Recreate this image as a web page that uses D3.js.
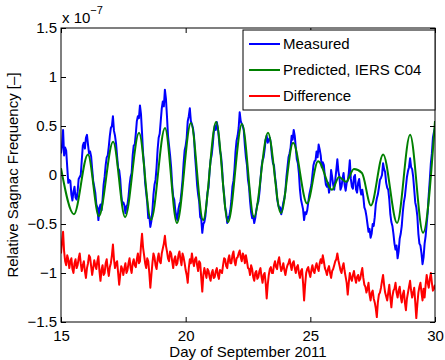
<!DOCTYPE html>
<html>
<head>
<meta charset="utf-8">
<script src="https://cdn.jsdelivr.net/npm/d3@7"></script>
<style>
  body { margin: 0; background: #fff; }
  svg text { font-family: "Liberation Sans", Arial, sans-serif; fill: #000; }
</style>
</head>
<body>
<div id="chart"></div>
<script>
// values are in units of 1e-7, days of September 2011
var sampleStart = 15, sampleStep = 1 / 24;   // hourly samples

var measured = [
  0.22, 0.30, 0.46, 0.20, 0.28, 0.25, 0.08, -0.08, -0.05, -0.06, -0.2, -0.26, -0.17, -0.12, -0.23, -0.25, -0.17, -0.04, -0.02, 0.0, 0.15, 0.3, 0.33, 0.27,
  0.38, 0.41, 0.31, 0.22, 0.24, 0.19, 0.06, -0.06, -0.12, -0.18, -0.3, -0.33, -0.46, -0.34, -0.3, -0.36, -0.25, -0.1, -0.02, 0.1, 0.18, 0.2, 0.29, 0.4,
  0.48, 0.5, 0.6, 0.45, 0.4, 0.32, 0.19, 0.07, 0.05, -0.04, -0.2, -0.3, -0.28, -0.31, -0.39, -0.32, -0.3, -0.22, -0.1, -0.02, 0.02, 0.2, 0.3, 0.31,
  0.42, 0.55, 0.6, 0.58, 0.71, 0.62, 0.43, 0.22, 0.1, -0.08, -0.18, -0.28, -0.44, -0.42, -0.53, -0.47, -0.36, -0.2, -0.1, -0.05, 0.08, 0.26, 0.38, 0.42,
  0.55, 0.68, 0.75, 0.7, 0.87, 0.78, 0.6, 0.4, 0.3, 0.2, 0.08, -0.1, -0.22, -0.25, -0.36, -0.42, -0.46, -0.35, -0.3, -0.27, -0.17, -0.05, 0.12, 0.25,
  0.3, 0.38, 0.55, 0.6, 0.68, 0.55, 0.52, 0.48, 0.4, 0.2, 0.06, -0.1, -0.2, -0.27, -0.43, -0.45, -0.59, -0.5, -0.48, -0.42, -0.3, -0.18, -0.13, 0.04,
  0.15, 0.2, 0.3, 0.43, 0.5, 0.46, 0.54, 0.48, 0.37, 0.25, 0.2, 0.08, -0.1, -0.2, -0.33, -0.38, -0.49, -0.43, -0.42, -0.36, -0.26, -0.12, -0.06, 0.06,
  0.24, 0.35, 0.4, 0.48, 0.64, 0.55, 0.52, 0.5, 0.45, 0.3, 0.18, 0.1, -0.05, -0.12, -0.27, -0.38, -0.44, -0.42, -0.49, -0.44, -0.36, -0.3, -0.27, -0.18,
  -0.05, 0.08, 0.15, 0.18, 0.26, 0.36, 0.4, 0.33, 0.36, 0.38, 0.32, 0.2, 0.12, 0.1, -0.02, -0.1, -0.24, -0.3, -0.34, -0.33, -0.4, -0.35, -0.28, -0.24,
  -0.16, -0.02, 0.08, 0.18, 0.22, 0.28, 0.4, 0.36, 0.46, 0.4, 0.28, 0.16, 0.12, 0.02, -0.15, -0.25, -0.3, -0.35, -0.46, -0.38, -0.4, -0.36, -0.28, -0.2,
  -0.15, -0.1, 0.0, 0.1, 0.14, 0.15, 0.24, 0.18, 0.31, 0.26, 0.2, 0.08, 0.13, 0.1, -0.02, -0.1, -0.12, -0.08, -0.18, -0.12, 0.05, -0.02, -0.1, -0.15,
  -0.05, 0.05, 0.16, 0.04, -0.02, -0.15, -0.12, -0.04, 0.02, -0.1, -0.16, -0.08, -0.06, 0.02, 0.15, -0.04, -0.12, -0.14, -0.02, 0.0, -0.15, -0.18, -0.08, -0.04,
  -0.14, -0.2, -0.15, -0.22, -0.33, -0.36, -0.42, -0.5, -0.58, -0.55, -0.64, -0.6, -0.5, -0.52, -0.43, -0.3, -0.24, -0.2, -0.13, -0.05, -0.03, 0.0, 0.12, 0.06,
  0.03, -0.08, -0.13, -0.15, -0.25, -0.4, -0.48, -0.52, -0.6, -0.7, -0.76, -0.72, -0.85, -0.78, -0.65, -0.6, -0.52, -0.38, -0.28, -0.22, -0.12, -0.02, 0.04, 0.08,
  0.17, 0.08, 0.06, -0.02, -0.15, -0.28, -0.33, -0.42, -0.6, -0.7, -0.72, -0.8, -0.91, -0.84, -0.7, -0.62, -0.5, -0.38, -0.2, -0.05, 0.12, 0.22, 0.38, 0.44,
  0.48
];

var difference = [
  -0.8, -0.68, -0.58, -0.78, -0.88, -0.92, -0.82, -0.86, -0.95, -0.88, -0.85, -0.96, -1.0, -0.9, -0.86, -0.95, -0.92, -0.85, -0.8, -0.9, -0.98, -0.92, -0.88, -0.98,
  -1.05, -0.95, -0.9, -0.82, -0.84, -0.93, -1.02, -0.95, -0.87, -0.92, -0.96, -0.88, -0.83, -0.98, -1.08, -0.97, -0.92, -1.02, -1.0, -0.9, -0.86, -0.96, -1.03, -0.94,
  -0.9, -0.82, -0.71, -0.86, -0.95, -0.9, -0.88, -1.0, -1.12, -1.02, -0.93, -0.96, -1.02, -0.95, -0.9, -1.0, -0.97, -0.9, -0.85, -0.95, -1.0, -0.9, -0.86, -0.92,
  -0.94, -0.86, -0.8, -0.9, -0.88, -0.72, -0.6, -0.74, -0.82, -0.9, -0.95, -0.85, -0.88, -1.0, -1.15, -1.02, -0.9, -0.8, -0.84, -0.92, -0.96, -0.86, -0.8, -0.88,
  -0.9, -0.8, -0.75, -0.7, -0.62, -0.72, -0.78, -0.85, -0.88, -0.78, -0.8, -0.88, -0.95, -0.86, -0.83, -0.92, -0.9, -0.82, -0.78, -0.86, -0.92, -0.8, -0.84, -0.9,
  -0.97, -1.02, -1.1, -0.95, -0.86, -0.9, -0.8, -0.88, -0.93, -0.86, -0.84, -0.92, -0.98, -0.88, -0.9, -1.05, -1.19, -1.02, -0.95, -1.0, -1.05, -0.96, -0.98, -1.04,
  -1.08, -1.0, -0.97, -1.05, -1.04, -0.98, -0.95, -1.02, -1.06, -0.97, -0.98, -1.0, -0.92, -0.85, -0.86, -0.93, -0.95, -0.86, -0.82, -0.9, -0.9, -0.82, -0.78, -0.88,
  -0.92, -0.85, -0.84, -0.8, -0.77, -0.84, -0.88, -0.8, -0.83, -0.9, -0.82, -0.88, -0.95, -0.96, -1.02, -0.92, -0.96, -1.04, -1.08, -1.0, -0.98, -1.06, -1.04, -0.98,
  -0.95, -1.04, -1.1, -1.02, -1.0, -1.1, -1.26, -1.12, -1.02, -0.96, -0.94, -1.0, -1.0, -0.92, -0.88, -0.94, -0.96, -0.88, -0.84, -0.92, -0.98, -0.95, -0.9, -0.97,
  -1.02, -0.96, -0.92, -0.9, -0.86, -0.92, -0.97, -0.9, -0.88, -0.95, -1.0, -0.94, -0.92, -1.0, -1.05, -0.98, -0.96, -1.1, -1.28, -1.12, -1.0, -0.96, -0.94, -1.0,
  -1.04, -0.97, -0.92, -0.98, -1.0, -0.94, -0.9, -0.95, -0.98, -0.9, -0.86, -0.9, -0.82, -0.88, -0.95, -0.98, -1.02, -0.96, -0.93, -1.0, -1.05, -0.98, -0.96, -0.92,
  -0.88, -0.86, -0.8, -0.87, -0.92, -0.97, -1.0, -0.94, -0.9, -0.98, -1.04, -1.1, -1.22, -1.1, -1.0, -1.05, -1.08, -1.02, -0.98, -1.05, -1.1, -1.04, -1.02, -1.08,
  -1.06, -1.0, -0.95, -1.05, -1.12, -1.14, -1.2, -1.16, -1.1, -1.22, -1.28, -1.2, -1.18, -1.26, -1.3, -1.36, -1.45, -1.3, -1.22, -1.2, -1.15, -1.08, -1.02, -1.12,
  -1.2, -1.24, -1.28, -1.2, -1.12, -1.25, -1.35, -1.24, -1.18, -1.16, -1.1, -1.2, -1.25, -1.18, -1.14, -1.24, -1.3, -1.22, -1.18, -1.3, -1.38, -1.26, -1.2, -1.14,
  -1.08, -1.18, -1.25, -1.2, -1.15, -1.3, -1.46, -1.32, -1.2, -1.14, -1.1, -1.2, -1.28, -1.16, -1.25, -1.12, -1.02, -1.1, -1.15, -1.06, -1.0, -1.1, -1.18, -1.16,
  -1.12
];

// predicted curve given by its turning points
var predictedDays = [15.0, 15.52, 16.08, 16.52, 17.09, 17.57, 18.13, 18.61, 19.17, 19.65,
  20.21, 20.7, 21.22, 21.7, 22.26, 22.74, 23.3, 23.82, 24.31, 24.87, 25.31, 25.87,
  26.15, 26.43, 26.75, 27.07, 27.43, 27.92, 28.48, 29.0, 29.52, 30.0];
var predictedVals = [0.07, -0.4, 0.21, -0.42, 0.34, -0.43, 0.43, -0.46, 0.48, -0.49,
  0.53, -0.46, 0.54, -0.48, 0.52, -0.43, 0.43, -0.39, 0.33, -0.29, 0.14, -0.15,
  -0.02, -0.07, 0.06, 0.02, -0.31, 0.21, -0.49, 0.41, -0.59, 0.55];

var xTicks = [15, 20, 25, 30];
var yTicks = [-1.5, -1, -0.5, 0, 0.5, 1, 1.5];
var yTickLabels = ["\u22121.5", "\u22121", "\u22120.5", "0", "0.5", "1", "1.5"];

var seriesNames = ["Measured", "Predicted, IERS C04", "Difference"];
var seriesColors = ["#0000ff", "#008000", "#ff0000"];

var W = 445, H = 360;
var margin = { top: 28, right: 10, bottom: 38, left: 61 },
    width = W - margin.left - margin.right,
    height = H - margin.top - margin.bottom;

var svg = d3.select("#chart").append("svg")
    .attr("width", W)
    .attr("height", H);

var g = svg.append("g")
    .attr("transform", "translate(" + margin.left + "," + margin.top + ")");

var x = d3.scaleLinear().domain([15, 30]).range([0, width]);
var y = d3.scaleLinear().domain([-1.5, 1.5]).range([height, 0]);

g.append("clipPath").attr("id", "plotclip")
  .append("rect").attr("width", width).attr("height", height);

var sampled = function (arr) {
  return arr.map(function (v, i) { return { d: sampleStart + i * sampleStep, v: v }; });
};

var line = d3.line()
    .x(function (p) { return x(p.d); })
    .y(function (p) { return y(p.v); });

var plot = g.append("g").attr("clip-path", "url(#plotclip)");

plot.append("path")
    .datum(sampled(measured))
    .attr("fill", "none")
    .attr("stroke", seriesColors[0])
    .attr("stroke-width", 2)
    .attr("stroke-linejoin", "round")
    .attr("d", line);

plot.append("path")
    .datum(predictedDays.map(function (d, i) { return { d: d, v: predictedVals[i] }; }))
    .attr("fill", "none")
    .attr("stroke", seriesColors[1])
    .attr("stroke-width", 2)
    .attr("d", line.curve(d3.curveMonotoneX));

line.curve(d3.curveLinear);

plot.append("path")
    .datum(sampled(difference))
    .attr("fill", "none")
    .attr("stroke", seriesColors[2])
    .attr("stroke-width", 2)
    .attr("stroke-linejoin", "round")
    .attr("d", line);

// axes, ticks pointing inwards on all four sides
var fontSize = "15px";

var xAxis = d3.axisBottom(x).tickValues(xTicks).tickSize(-5).tickPadding(8)
    .tickFormat(d3.format("d"));
var yAxis = d3.axisLeft(y).tickValues(yTicks).tickSize(-5).tickPadding(4)
    .tickFormat(function (d, i) { return yTickLabels[i]; });

g.append("g")
    .attr("transform", "translate(0," + height + ")")
    .call(xAxis);
g.append("g").call(yAxis);
g.append("g")
    .call(d3.axisTop(x).tickValues(xTicks).tickSize(-5).tickFormat(""));
g.append("g")
    .attr("transform", "translate(" + width + ",0)")
    .call(d3.axisRight(y).tickValues(yTicks).tickSize(-5).tickFormat(""));

g.selectAll(".domain").remove();
g.selectAll(".tick line").attr("stroke", "#000");
g.selectAll(".tick text").style("font-size", fontSize);

g.append("rect")
    .attr("width", width)
    .attr("height", height)
    .attr("fill", "none")
    .attr("stroke", "#000")
    .attr("stroke-width", 1);

// exponent label
var expo = svg.append("text")
    .attr("x", margin.left + 1)
    .attr("y", 23)
    .style("font-size", fontSize);
expo.append("tspan").text("x 10");
expo.append("tspan").attr("dy", -9).style("font-size", "11px").text("\u22127");

// axis labels
svg.append("text")
    .attr("x", margin.left + width / 2)
    .attr("y", 357)
    .attr("text-anchor", "middle")
    .style("font-size", fontSize)
    .text("Day of September 2011");

svg.append("text")
    .attr("transform", "translate(18," + (margin.top + height / 2) + ") rotate(-90)")
    .attr("text-anchor", "middle")
    .style("font-size", fontSize)
    .text("Relative Sagnac Frequency [\u2013]");

// legend
var legend = g.append("g").attr("transform", "translate(" + (width - 192) + ",2)");
legend.append("rect")
    .attr("width", 192)
    .attr("height", 80)
    .attr("fill", "#fff")
    .attr("stroke", "#000");
seriesNames.forEach(function (name, i) {
  var row = legend.append("g").attr("transform", "translate(0," + (14 + i * 26) + ")");
  row.append("line")
      .attr("x1", 6).attr("x2", 37)
      .attr("stroke", seriesColors[i])
      .attr("stroke-width", 2);
  row.append("text")
      .attr("x", 40)
      .attr("dy", "0.35em")
      .style("font-size", fontSize)
      .text(name);
});
</script>
</body>
</html>
